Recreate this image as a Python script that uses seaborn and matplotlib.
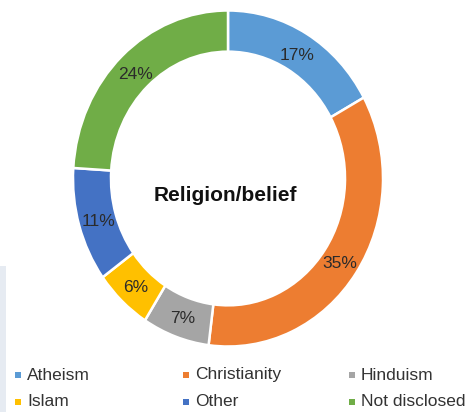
import matplotlib
matplotlib.use("Agg")
import matplotlib.pyplot as plt
import seaborn as sns
from matplotlib.patches import Rectangle

sns.set_theme(style="white")
plt.rcParams['font.family'] = ['Liberation Sans', 'DejaVu Sans']

categories = ['Atheism', 'Christianity', 'Hinduism', 'Islam', 'Other', 'Not disclosed']
shares = [17, 35, 7, 6, 11, 24]
colors = ['#5B9BD5', '#ED7D31', '#A5A5A5', '#FFC000', '#4472C4', '#70AD47']
title = 'Religion/belief'

W, H = 468, 412
fig = plt.figure(figsize=(W / 100, H / 100), dpi=100)
fig.patch.set_facecolor('white')

# faint strip at the left edge from the original screenshot
fig.patches.append(Rectangle((0, 0), 6 / W, 146 / H, transform=fig.transFigure,
                             facecolor='#E6EBF2', edgecolor='none', zorder=0))

# donut slightly taller than wide, like the reference
cx, cy, rx, ry = 228, 178.5, 155, 168
ax = fig.add_axes([(cx - rx) / W, (H - cy - ry) / H, 2 * rx / W, 2 * ry / H])
wedges, texts, autotexts = ax.pie(
    shares, colors=sns.color_palette(colors), startangle=90, counterclock=False,
    autopct='%d%%', pctdistance=0.87,
    wedgeprops=dict(width=0.245, edgecolor='white', linewidth=1.8),
    textprops=dict(fontsize=12.5, color='#2b2b2b'))
for t in autotexts:
    x, y = t.get_position()
    t.set_position((x, y - 0.015))
ax.set_aspect('auto')
ax.set_xlim(-1, 1)
ax.set_ylim(-1, 1)
ax.text(-0.02, -0.1, title, ha='center', va='center', fontsize=15,
        fontweight='bold', color='#111111')

# legend: 2 rows x 3 columns
col_x = [18, 186, 352]
row_y = [375, 402]
for i, (name, c) in enumerate(zip(categories, colors)):
    x = col_x[i % 3]
    y = row_y[i // 3]
    fig.patches.append(Rectangle(((x - 3) / W, (H - y - 3) / H), 6 / W, 6 / H,
                                 transform=fig.transFigure, facecolor=c,
                                 edgecolor='none'))
    fig.text((x + 9) / W, (H - y) / H, name, ha='left', va='center',
             fontsize=12.5, color='#333333')

fig.savefig('out.png', dpi=100)
